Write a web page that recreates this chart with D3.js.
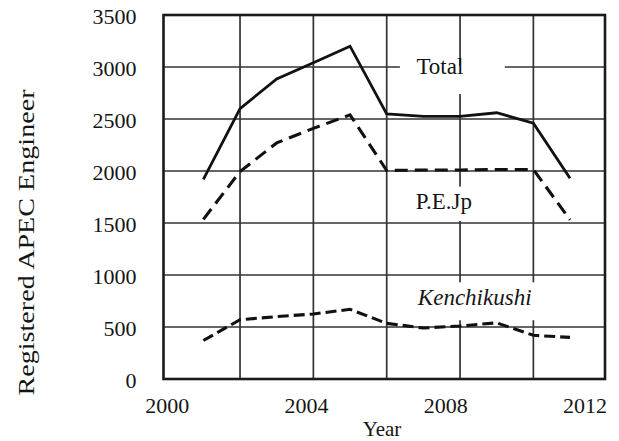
<!DOCTYPE html>
<html>
<head>
<meta charset="utf-8">
<script src="https://cdn.jsdelivr.net/npm/d3@7"></script>
<style>
  html, body { margin: 0; padding: 0; background: #fff; }
  svg { display: block; font-family: "Liberation Serif", "Times New Roman", serif; }
</style>
</head>
<body>
<svg id="chart" width="619" height="441"></svg>
<script>
// ---- data ----
const years = [2001, 2002, 2003, 2004, 2005, 2006, 2007, 2008, 2009, 2010, 2011];
const totalValues = [1920, 2600, 2885, 3040, 3200, 2550, 2525, 2525, 2560, 2460, 1930];
const peValues = [1535, 1995, 2270, 2410, 2540, 2005, 2010, 2010, 2015, 2015, 1530];
const kenValues = [370, 570, 600, 625, 670, 535, 490, 510, 540, 420, 400];
const yTicks = [0, 500, 1000, 1500, 2000, 2500, 3000, 3500];
const xGridYears = [2002, 2004, 2006, 2008, 2010];
const xTickLabels = [2000, 2004, 2008, 2012];
const seriesLabels = ["Total", "P.E.Jp", "Kenchikushi"];

// ---- layout ----
const svg = d3.select("#chart");
const frame = { left: 163.5, right: 605, top: 15, bottom: 379 };

const x = d3.scaleLinear().domain([2000, 2012]).range([166.7, 606.7]);
const xLabel = d3.scaleLinear().domain([2000, 2012]).range([166.7, 584.5]);
const y = d3.scaleLinear().domain([0, 3500]).range([frame.bottom, frame.top]);

const gridColor = "#333";
const textColor = "#151515";

// grid lines
const grid = svg.append("g");
grid.selectAll("line.h").data(yTicks.filter(d => d > 0 && d < 3500)).join("line")
  .attr("x1", frame.left).attr("x2", frame.right)
  .attr("y1", d => y(d)).attr("y2", d => y(d))
  .attr("stroke", gridColor).attr("stroke-width", 1.7);
grid.selectAll("line.v").data(xGridYears).join("line")
  .attr("x1", d => x(d)).attr("x2", d => x(d))
  .attr("y1", frame.top).attr("y2", frame.bottom)
  .attr("stroke", gridColor).attr("stroke-width", 1.7);

// white label backgrounds (break the grid)
const labelBoxes = [
  { x0: 2006.36, x1: 2009.22, v0: 3010, v1: 2740 },
  { x0: 2006.65, x1: 2008.55, v0: 1850, v1: 1520 },
  { x0: 2006.58, x1: 2010.3, v0: 930, v1: 565 }
];
svg.append("g").selectAll("rect").data(labelBoxes).join("rect")
  .attr("x", d => x(d.x0)).attr("width", d => x(d.x1) - x(d.x0))
  .attr("y", d => y(d.v0)).attr("height", d => y(d.v1) - y(d.v0))
  .attr("fill", "#fff");

// frame
svg.append("rect")
  .attr("x", frame.left).attr("y", frame.top)
  .attr("width", frame.right - frame.left).attr("height", frame.bottom - frame.top)
  .attr("fill", "none").attr("stroke", "#1a1a1a").attr("stroke-width", 2.6);

// lines
const line = d3.line().x((d, i) => x(years[i])).y(d => y(d));
svg.append("path").datum(totalValues).attr("d", line)
  .attr("fill", "none").attr("stroke", "#111").attr("stroke-width", 2.8)
  .attr("stroke-linejoin", "miter");
svg.append("path").datum(peValues).attr("d", line)
  .attr("fill", "none").attr("stroke", "#111").attr("stroke-width", 3.1)
  .attr("stroke-dasharray", "13,7");
svg.append("path").datum(kenValues).attr("d", line)
  .attr("fill", "none").attr("stroke", "#111").attr("stroke-width", 3.1)
  .attr("stroke-dasharray", "11,5");

// series labels
const labelPos = [
  { x: 2007.45, v: 2935, italic: false },
  { x: 2007.56, v: 1635, italic: false },
  { x: 2008.4, v: 712, italic: true }
];
svg.append("g").selectAll("text").data(seriesLabels).join("text")
  .attr("x", (d, i) => x(labelPos[i].x))
  .attr("y", (d, i) => y(labelPos[i].v))
  .attr("text-anchor", "middle")
  .attr("font-size", 23)
  .attr("font-style", (d, i) => labelPos[i].italic ? "italic" : "normal")
  .attr("fill", textColor)
  .text(d => d);

// y axis labels
const yAxis = d3.axisLeft(y).tickValues(yTicks).tickSize(0).tickPadding(0).tickFormat(d3.format("d"));
const gy = svg.append("g").attr("transform", "translate(136.5,0)").call(yAxis);
gy.select(".domain").remove();
gy.selectAll("text").attr("font-size", 22).attr("font-family", "Liberation Serif")
  .attr("fill", textColor).attr("dy", "0.38em").attr("x", 0);

// x axis labels
const xAxis = d3.axisBottom(xLabel).tickValues(xTickLabels).tickSize(0).tickPadding(0).tickFormat(d3.format("d"));
const gx = svg.append("g").attr("transform", "translate(0,398)").call(xAxis);
gx.select(".domain").remove();
gx.selectAll("text").attr("font-size", 22).attr("font-family", "Liberation Serif")
  .attr("fill", textColor).attr("dy", "0.7em");

// axis titles
svg.append("text")
  .attr("x", 382).attr("y", 436)
  .attr("text-anchor", "middle").attr("font-size", 21).attr("fill", textColor)
  .text("Year");
svg.append("text")
  .attr("transform", "translate(33.5,242.5) rotate(-90)")
  .attr("text-anchor", "middle").attr("font-size", 24).attr("fill", textColor)
  .attr("textLength", 306).attr("lengthAdjust", "spacingAndGlyphs")
  .text("Registered APEC Engineer");
</script>
</body>
</html>
